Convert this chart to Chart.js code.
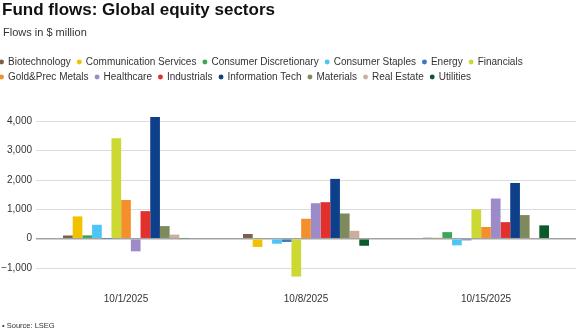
<!DOCTYPE html>
<html>
<head>
<meta charset="utf-8">
<script src="https://cdn.jsdelivr.net/npm/chart.js@4.4.1/dist/chart.umd.min.js"></script>
<style>
  html, body { margin: 0; padding: 0; background: #fff; }
  #wrap { position: relative; width: 576px; height: 332px; overflow: hidden; font-family: "Liberation Sans", Arial, sans-serif; }
  #chart { position: absolute; left: -5px; top: 0; }
  .title { position: absolute; left: 2px; top: 1px; font-size: 17px; line-height: 17px; font-weight: bold; color: #111; white-space: nowrap; }
  .subtitle { position: absolute; left: 3px; top: 27px; font-size: 11px; line-height: 11px; color: #333; white-space: nowrap; }
  .source { position: absolute; left: 2px; top: 322px; font-size: 7.5px; line-height: 8px; color: #333; white-space: nowrap; }
</style>
</head>
<body>
<div id="wrap">
  <canvas id="chart" width="581" height="332"></canvas>
  <div class="title">Fund flows: Global equity sectors</div>
  <div class="subtitle">Flows in $ million</div>
  <div class="source">• Source: LSEG</div>
</div>
<script>
// Weekly fund flows by equity sector, $ million
const categories = ['10/1/2025', '10/8/2025', '10/15/2025'];

const biotechnology         = [110, 160, 35];
const communicationServices = [760, -280, 35];
const consumerDiscretionary = [115, 0, 225];
const consumerStaples       = [475, -170, -225];
const energy                = [5, -110, -55];
const financials            = [3420, -1290, 1000];
const goldPrecMetals        = [1320, 680, 400];
const healthcare            = [-430, 1210, 1370];
const industrials           = [940, 1245, 565];
const informationTech       = [4150, 2040, 1900];
const materials             = [430, 860, 805];
const realEstate            = [140, 270, 20];
const utilities             = [20, -240, 455];

const yTicks = [-1000, 0, 1000, 2000, 3000, 4000];

const seriesList = [
  ['Biotechnology', biotechnology, '#7b6148'],
  ['Communication Services', communicationServices, '#f2c200'],
  ['Consumer Discretionary', consumerDiscretionary, '#3aa757'],
  ['Consumer Staples', consumerStaples, '#4cc4f4'],
  ['Energy', energy, '#3a7abf'],
  ['Financials', financials, '#cbd932'],
  ['Gold&Prec Metals', goldPrecMetals, '#f58f2b'],
  ['Healthcare', healthcare, '#9d8ac8'],
  ['Industrials', industrials, '#e2312d'],
  ['Information Tech', informationTech, '#0e3f8a'],
  ['Materials', materials, '#7e8a5c'],
  ['Real Estate', realEstate, '#cdae9e'],
  ['Utilities', utilities, '#0b5a2b']
];

const datasets = seriesList.map(([label, data, color]) => ({
  label, data,
  backgroundColor: color,
  borderWidth: 0,
  categoryPercentage: 0.7,
  barPercentage: 1.0
}));

const fmt = v => (v < 0 ? '\u2212' : '') + Math.abs(v).toLocaleString('en-US');

new Chart(document.getElementById('chart'), {
  type: 'bar',
  data: { labels: categories, datasets },
  options: {
    responsive: false,
    animation: false,
    layout: { padding: { top: 52, left: 0, right: 0, bottom: 16 } },
    plugins: {
      tooltip: { enabled: false },
      legend: {
        position: 'top',
        align: 'start',
        labels: {
          usePointStyle: true,
          pointStyle: 'circle',
          boxWidth: 3,
          boxHeight: 3.5,
          padding: 5,
          color: '#333',
          font: { family: '"Liberation Sans", Arial, sans-serif', size: 10 },
          generateLabels(chart) {
            return chart.data.datasets.map((ds, i) => ({
              text: ds.label + '\u2009',
              fillStyle: ds.backgroundColor,
              strokeStyle: ds.backgroundColor,
              lineWidth: 0,
              pointStyle: 'circle',
              hidden: false,
              datasetIndex: i,
              fontColor: '#333'
            }));
          }
        }
      }
    },
    scales: {
      x: {
        grid: { display: false, drawTicks: false },
        border: { display: false },
        ticks: {
          padding: 11,
          color: '#333',
          font: { family: '"Liberation Sans", Arial, sans-serif', size: 10 }
        }
      },
      y: {
        min: -1475,
        max: 5000,
        afterBuildTicks(scale) { scale.ticks = yTicks.map(v => ({ value: v })); },
        afterFit(scale) { scale.width = 41; },
        border: { display: false },
        grid: {
          drawTicks: false,
          color: ctx => ctx.tick && ctx.tick.value === 0 ? '#a3a3a3' : '#dcdcdc',
          lineWidth: ctx => ctx.tick && ctx.tick.value === 0 ? 1.5 : 1
        },
        ticks: {
          padding: 4,
          color: '#333',
          font: { family: '"Liberation Sans", Arial, sans-serif', size: 10 },
          callback: v => fmt(v)
        }
      }
    }
  }
});
</script>
</body>
</html>
